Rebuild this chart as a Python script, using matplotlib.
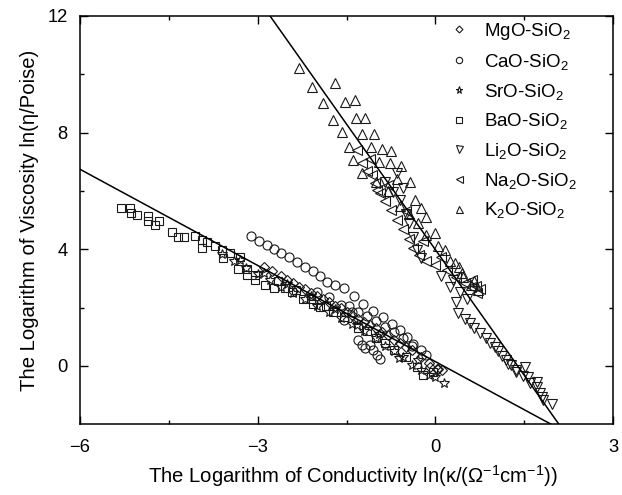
import matplotlib
matplotlib.use("Agg")
import matplotlib.pyplot as plt
import numpy as np

plt.rcParams['font.family'] = ['Liberation Sans', 'DejaVu Sans']
plt.rcParams['mathtext.fontset'] = 'custom'
plt.rcParams['mathtext.rm'] = 'Liberation Sans'
plt.rcParams['mathtext.it'] = 'Liberation Sans:italic'
plt.rcParams['mathtext.bf'] = 'Liberation Sans:bold'

# ---------------- data ----------------
mgo_x = [-2.9, -2.75, -2.6, -2.5, -2.4, -2.3, -2.2, -2.1, -2.0, -1.9, -1.8, -1.7, -1.6, -1.5, -1.4, -1.3,
         -1.2, -1.1, -1.0, -0.9, -0.8, -0.7, -0.6, -0.5, -0.4, -0.25, -0.1, -0.09, 0.02, 0.05, 0.11]
mgo_y = [3.4, 3.25, 3.1, 2.95, 2.85, 2.72, 2.65, 2.5, 2.4, 2.3, 2.2, 2.05, 2.0, 1.85, 1.75, 1.6,
         1.5, 1.4, 1.3, 1.15, 1.05, 0.9, 0.8, 0.65, 0.55, 0.3, 0.1, -0.03, -0.09, -0.1, -0.15]

cao_x = [-3.12, -2.98, -2.85, -2.72, -2.6, -2.47, -2.33, -2.2, -2.07, -1.95, -1.83, -1.7, -1.55, -1.38,
         -1.22, -1.05, -0.88, -0.74, -0.6, -0.48, -0.37, -0.25, -0.15,
         -2.0, -1.8, -1.6, -1.4, -1.55, -1.3, -1.24, -1.19, -1.1, -1.05, -0.99, -0.93,
         -1.45, -1.3, -1.15, -1.0, -0.85, -0.7, -0.55, -0.4]
cao_y = [4.45, 4.28, 4.15, 4.0, 3.86, 3.72, 3.55, 3.4, 3.25, 3.1, 2.88, 2.78, 2.66, 2.4,
         2.14, 1.9, 1.68, 1.45, 1.23, 1.0, 0.77, 0.55, 0.37,
         2.55, 2.35, 2.1, 1.85, 1.56, 0.88, 0.71, 0.6, 0.71, 0.54, 0.37, 0.25,
         2.05, 1.85, 1.7, 1.55, 1.35, 1.15, 0.95, 0.7]

sro_x = [-3.6, -3.4, -3.2, -3.0, -2.8, -2.6, -2.4, -2.2, -2.0, -1.8, -1.6, -1.4, -1.2, -1.0,
         -0.85, -0.7, -0.55, -0.4, -0.25, -0.1, 0.0, 0.14,
         -3.3, -2.9, -2.5, -2.1, -1.7, -1.33, -0.95, -0.62, -0.3]
sro_y = [3.85, 3.6, 3.35, 3.15, 2.95, 2.7, 2.5, 2.3, 2.05, 1.85, 1.65, 1.45, 1.2, 0.95,
         0.7, 0.5, 0.3, 0.05, -0.15, -0.3, -0.38, -0.6,
         3.65, 3.2, 2.8, 2.4, 1.95, 1.4, 1.1, 0.26, 0.2]

bao_x = [-5.30, -5.15, -5.14, -5.03, -4.86, -4.86, -4.73, -4.66, -4.45, -4.34, -4.24, -4.06, -3.94, -3.94,
         -3.86, -3.72, -3.61, -3.58, -3.47, -3.30, -3.33, -3.18, -3.18, -3.04, -3.04, -2.88, -2.73, -2.54,
         -2.42, -2.23, -2.06, -1.95, -1.72, -1.55, -1.3, -1.0, -0.7, -0.5, -0.31, -0.2, -0.04,
         -2.65, -2.35, -2.1, -1.85, -1.15, -0.85]
bao_y = [5.42, 5.40, 5.23, 5.17, 5.15, 4.98, 4.83, 4.98, 4.6, 4.41, 4.41, 4.45, 4.31, 4.03,
         4.26, 4.11, 3.99, 3.69, 3.88, 3.72, 3.34, 3.34, 3.11, 3.11, 2.94, 2.77, 2.66, 2.66,
         2.54, 2.31, 2.14, 2.03, 1.85, 1.68, 1.3, 0.95, 0.55, 0.3, -0.03, -0.32, -0.2,
         2.9, 2.6, 2.3, 2.05, 1.2, 0.8]

li2o_x = [-0.85, -0.72, -0.6, -0.5, -0.45, -0.38, -0.31, -0.25, 0.1, 0.25, 0.35, 0.38, 0.42, 0.53, 0.5,
          0.59, 0.76, 0.85, 0.92, 1.05, 1.2, 1.23, 1.28, 1.37, 1.37, 1.48, 1.51, 1.57, 1.6, 1.71, 1.71,
          1.77, 1.8, 1.82, 1.97, -0.65, -0.55, 0.3, 0.65, 1.0, 1.12]
li2o_y = [6.3, 5.95, 5.69, 5.2, 4.9, 4.42, 3.97, 3.7, 3.1, 2.71, 2.2, 1.8, 2.54, 2.31, 1.6,
          1.46, 1.12, 0.95, 0.78, 0.5, 0.2, 0.08, 0.05, -0.14, -0.2, -0.35, -0.03, -0.38, -0.59, -0.55, -0.72,
          -0.94, -1.06, -1.17, -1.29, 6.6, 6.1, 2.95, 1.3, 0.65, 0.35]

na2o_x = [-1.33, -1.24, -1.15, -1.07, -1.02, -0.99, -0.93, -0.85, -0.75, -0.65, -0.55, -0.45, -0.38, -0.28,
          -0.15, 0.0, 0.19, 0.35, 0.5, 0.6, 0.7, 0.75, -1.1, -0.8, -0.5, -0.2, 0.1, 0.62, 0.68]
na2o_y = [7.4, 6.95, 6.7, 6.54, 6.27, 6.03, 5.93, 5.65, 5.35, 5.0, 4.7, 4.35, 4.04, 3.8,
          3.6, 3.45, 3.28, 3.05, 2.85, 2.7, 2.5, 2.65, 7.1, 6.2, 5.3, 4.3, 3.75, 2.95, 2.75]

k2o_x = [-2.31, -2.09, -1.69, -1.89, -1.52, -1.36, -1.72, -1.34, -1.19, -1.58, -1.23, -1.04, -1.46, -1.09,
         -0.9, -0.75, -1.39, -0.95, -0.77, -0.58, -1.24, -0.43, -0.34, -0.15, 0.0, 0.16, 0.33, 0.47, 0.61,
         -1.0, -0.8, -0.6, -0.45, -0.3, -0.15, 0.05, 0.25, 0.45, 0.65, 0.72, -0.65, -0.25, 0.4]
k2o_y = [10.2, 9.57, 9.69, 9.0, 9.06, 9.12, 8.43, 8.5, 8.5, 8.03, 7.95, 7.95, 7.5, 7.5,
         7.43, 7.38, 7.06, 7.0, 6.95, 6.85, 6.62, 6.31, 5.69, 5.11, 4.55, 3.97, 3.52, 3.05, 2.77,
         6.3, 6.0, 5.5, 5.2, 4.9, 4.5, 4.1, 3.6, 3.2, 2.9, 2.6, 6.4, 5.4, 3.4]

# linear fits: y = intercept + slope * x
fit_intercepts = [0.15, 3.99]
fit_slopes = [-1.099, -2.87]
fit_xranges = [(-6.0, 2.3), (-3.0, 2.3)]

labels = ['MgO-SiO$_2$', 'CaO-SiO$_2$', 'SrO-SiO$_2$', 'BaO-SiO$_2$',
          'Li$_2$O-SiO$_2$', 'Na$_2$O-SiO$_2$', 'K$_2$O-SiO$_2$']

# ---------------- figure ----------------
W, H = 622, 495
fig = plt.figure(figsize=(W / 100, H / 100), dpi=100)
ax = fig.add_axes([80 / W, 1 - 424.3 / H, (613 - 80) / W, (424.3 - 16) / H])

series = [
    (mgo_x, mgo_y, 'D', 5.0),
    (cao_x, cao_y, 'o', 6.5),
    (sro_x, sro_y, '*', 7.5),
    (bao_x, bao_y, 's', 5.5),
    (li2o_x, li2o_y, 'v', 7.2),
    (na2o_x, na2o_y, '<', 7.2),
    (k2o_x, k2o_y, '^', 7.2),
]
for (xs, ys, m, ms), lab in zip(series, labels):
    ax.plot(xs, ys, linestyle='none', marker=m, ms=ms, mfc='none', mec='#1a1a1a',
            mew=0.8, label=lab)

for b0, b1, (x0, x1) in zip(fit_intercepts, fit_slopes, fit_xranges):
    xx = np.array([x0, x1])
    ax.plot(xx, b0 + b1 * xx, color='black', lw=1.1)

ax.set_xlim(-6, 3)
ax.set_ylim(-2, 12)
ax.set_xticks([-6, -3, 0, 3])
ax.set_xticks([-4.5, -1.5, 1.5], minor=True)
ax.set_yticks([0, 4, 8, 12])
ax.set_yticks([2, 6, 10], minor=True)
ax.tick_params(which='major', direction='in', length=6, width=1.0, labelsize=13.2,
               top=True, right=True)
ax.tick_params(which='minor', direction='in', length=3, width=1.0, top=True, right=True)
ax.tick_params(axis='y', which='major', pad=9)
ax.tick_params(axis='x', which='major', pad=10.5)
for s in ax.spines.values():
    s.set_linewidth(1.1)

ax.set_xlabel('The Logarithm of Conductivity ln(\u03ba/(\u03a9$^{\\mathregular{-1}}$cm$^{\\mathregular{-1}}$))',
              fontsize=14.6, labelpad=6)
ax.xaxis.set_label_coords(0.512, -0.095)
ax.set_ylabel('The Logarithm of Viscosity ln(\u03b7/Poise)', fontsize=14.6, labelpad=6)

leg = ax.legend(loc='upper left', bbox_to_anchor=(450 / W, 1 - 21 / H),
                bbox_transform=fig.transFigure, frameon=False, fontsize=13.5,
                handlelength=1.0, handletextpad=0.8, labelspacing=0.52,
                borderpad=0, borderaxespad=0, markerscale=0.7)

fig.savefig('out.png', dpi=100)
